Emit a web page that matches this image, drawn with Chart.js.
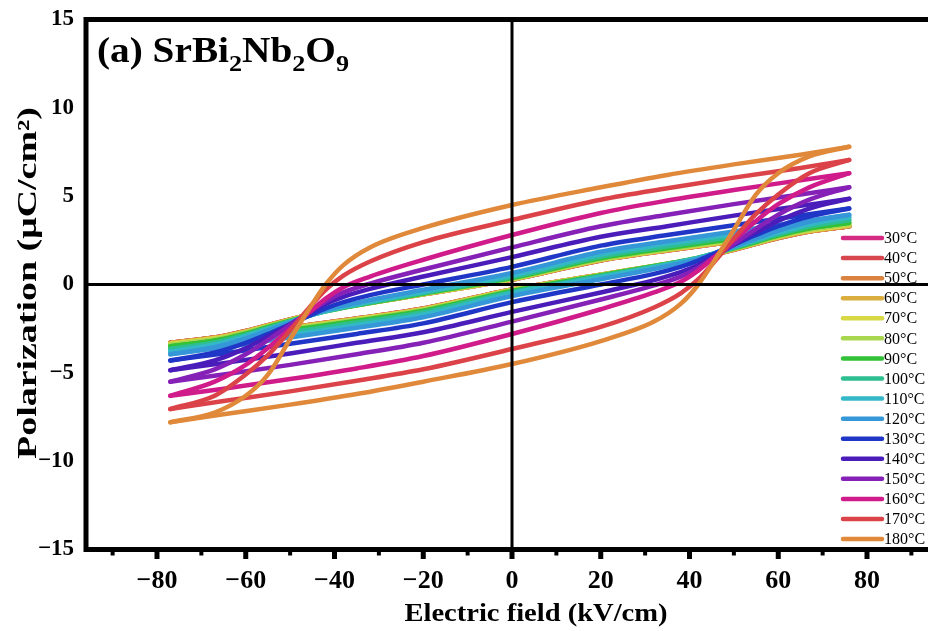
<!DOCTYPE html>
<html><head><meta charset="utf-8">
<script src="https://cdn.jsdelivr.net/npm/chart.js@4.4.1/dist/chart.umd.min.js"></script>
<style>
html,body{margin:0;padding:0;overflow:hidden;background:#fff;}
#wrap{width:928px;height:631px;overflow:hidden;position:relative;}
canvas{display:block;}
</style></head><body>
<div id="wrap"><canvas id="c" width="950" height="631"></canvas></div>
<script>
// ---- data ----
const temps = [30, 40, 50, 60, 70, 80, 90, 100, 110, 120, 130, 140, 150, 160, 170, 180];
const colors = ['#D42A82','#D6464C','#DA8240','#DAAE3E','#D7D844','#A8D64E','#33C137','#2EBF90',
                '#34B8C8','#3597D8','#1F36C6','#4A1DBA','#8621B8','#D01C8A','#DB4349','#E0893A'];
// field values (kV/cm) of the ascending (lower) branch and descending (upper) branch
const eLower = [-77, -65, -50, -35, -20, 0, 20, 32, 38, 42, 46, 50, 55, 60, 67, 76];
const eUpper = [-77, -67, -60, -55, -50, -46, -42, -38, -32, -20, 0, 20, 35, 50, 65, 76];
// polarization (uC/cm2) of the upper branch at eUpper, per temperature
const pUpper = [
  [-3.3, -3.0, -2.63, -2.3, -1.97, -1.72, -1.48, -1.29, -1.04, -0.56, 0.28, 1.36, 1.92, 2.43, 2.94, 3.3],
  [-3.3, -3.0, -2.63, -2.3, -1.97, -1.72, -1.48, -1.29, -1.04, -0.56, 0.28, 1.36, 1.92, 2.43, 2.94, 3.3],
  [-3.3, -3.0, -2.63, -2.3, -1.97, -1.72, -1.48, -1.29, -1.04, -0.56, 0.28, 1.36, 1.92, 2.43, 2.94, 3.3],
  [-3.32, -3.02, -2.65, -2.32, -1.99, -1.73, -1.49, -1.3, -1.05, -0.56, 0.29, 1.38, 1.94, 2.45, 2.96, 3.32],
  [-3.36, -3.05, -2.68, -2.34, -2.0, -1.74, -1.5, -1.3, -1.05, -0.55, 0.3, 1.4, 1.96, 2.48, 3.0, 3.36],
  [-3.42, -3.1, -2.72, -2.36, -2.02, -1.75, -1.51, -1.31, -1.05, -0.54, 0.32, 1.43, 2.0, 2.52, 3.05, 3.42],
  [-3.5, -3.17, -2.77, -2.4, -2.05, -1.77, -1.52, -1.32, -1.05, -0.52, 0.36, 1.48, 2.05, 2.58, 3.12, 3.5],
  [-3.65, -3.28, -2.84, -2.46, -2.08, -1.79, -1.52, -1.3, -1.02, -0.48, 0.42, 1.57, 2.15, 2.7, 3.25, 3.65],
  [-3.8, -3.4, -2.92, -2.52, -2.12, -1.8, -1.5, -1.27, -0.98, -0.42, 0.5, 1.7, 2.3, 2.85, 3.4, 3.8],
  [-3.95, -3.55, -3.05, -2.6, -2.15, -1.8, -1.45, -1.2, -0.88, -0.3, 0.65, 1.85, 2.45, 3.0, 3.55, 3.95],
  [-4.3, -3.85, -3.3, -2.8, -2.25, -1.8, -1.35, -1.0, -0.6, 0.0, 1.0, 2.2, 2.8, 3.35, 3.9, 4.3],
  [-4.85, -4.3, -3.6, -2.95, -2.25, -1.65, -1.1, -0.7, -0.25, 0.45, 1.55, 2.7, 3.3, 3.9, 4.45, 4.85],
  [-5.5, -4.8, -3.95, -3.15, -2.3, -1.6, -0.95, -0.45, 0.05, 0.85, 2.1, 3.3, 3.95, 4.55, 5.1, 5.5],
  [-6.3, -5.5, -4.55, -3.6, -2.5, -1.65, -0.8, -0.15, 0.45, 1.4, 2.8, 4.05, 4.75, 5.35, 5.9, 6.3],
  [-7.05, -6.3, -5.1, -4.0, -2.6, -1.4, -0.3, 0.5, 1.3, 2.4, 3.65, 4.8, 5.45, 6.05, 6.6, 7.05],
  [-7.8, -7.25, -6.3, -5.1, -3.1, -1.5, 0.0, 1.1, 2.1, 3.2, 4.5, 5.5, 6.2, 6.8, 7.35, 7.8]
];
// polarization of the lower branch at eLower, per temperature
const pLower = [
  [-3.3, -2.94, -2.43, -1.92, -1.36, -0.28, 0.56, 1.04, 1.29, 1.48, 1.72, 1.97, 2.3, 2.63, 3.0, 3.3],
  [-3.3, -2.94, -2.43, -1.92, -1.36, -0.28, 0.56, 1.04, 1.29, 1.48, 1.72, 1.97, 2.3, 2.63, 3.0, 3.3],
  [-3.3, -2.94, -2.43, -1.92, -1.36, -0.28, 0.56, 1.04, 1.29, 1.48, 1.72, 1.97, 2.3, 2.63, 3.0, 3.3],
  [-3.32, -2.96, -2.45, -1.94, -1.38, -0.29, 0.56, 1.05, 1.3, 1.49, 1.73, 1.99, 2.32, 2.65, 3.02, 3.32],
  [-3.36, -3.0, -2.48, -1.96, -1.4, -0.3, 0.55, 1.05, 1.3, 1.5, 1.74, 2.0, 2.34, 2.68, 3.05, 3.36],
  [-3.42, -3.05, -2.52, -2.0, -1.43, -0.32, 0.54, 1.05, 1.31, 1.51, 1.75, 2.02, 2.36, 2.72, 3.1, 3.42],
  [-3.5, -3.12, -2.58, -2.05, -1.48, -0.36, 0.52, 1.05, 1.32, 1.52, 1.77, 2.05, 2.4, 2.77, 3.17, 3.5],
  [-3.65, -3.25, -2.7, -2.15, -1.57, -0.42, 0.48, 1.02, 1.3, 1.52, 1.79, 2.08, 2.46, 2.84, 3.28, 3.65],
  [-3.8, -3.4, -2.85, -2.3, -1.7, -0.5, 0.42, 0.98, 1.27, 1.5, 1.8, 2.12, 2.52, 2.92, 3.4, 3.8],
  [-3.95, -3.55, -3.0, -2.45, -1.85, -0.65, 0.3, 0.88, 1.2, 1.45, 1.8, 2.15, 2.6, 3.05, 3.55, 3.95],
  [-4.3, -3.9, -3.35, -2.8, -2.2, -1.0, 0.0, 0.6, 1.0, 1.35, 1.8, 2.25, 2.8, 3.3, 3.85, 4.3],
  [-4.85, -4.45, -3.9, -3.3, -2.7, -1.55, -0.45, 0.25, 0.7, 1.1, 1.65, 2.25, 2.95, 3.6, 4.3, 4.85],
  [-5.5, -5.1, -4.55, -3.95, -3.3, -2.1, -0.85, -0.05, 0.45, 0.95, 1.6, 2.3, 3.15, 3.95, 4.8, 5.5],
  [-6.3, -5.9, -5.35, -4.75, -4.05, -2.8, -1.4, -0.45, 0.15, 0.8, 1.65, 2.5, 3.6, 4.55, 5.5, 6.3],
  [-7.05, -6.6, -6.05, -5.45, -4.8, -3.65, -2.4, -1.3, -0.5, 0.3, 1.4, 2.6, 4.0, 5.1, 6.3, 7.05],
  [-7.8, -7.35, -6.8, -6.2, -5.5, -4.5, -3.2, -2.1, -1.1, 0.0, 1.5, 3.1, 5.1, 6.3, 7.25, 7.8]
];
const xLabelled = [-80, -60, -40, -20, 0, 20, 40, 60, 80];
const yLabelled = [-15, -10, -5, 0, 5, 10, 15];
const xTitle = 'Electric field (kV/cm)';
const yTitle = 'Polarization (\u03bcC/cm\u00b2)';
const titleParts = [['(a) SrBi', 0], ['2', 1], ['Nb', 0], ['2', 1], ['O', 0], ['9', 1]];

const SERIF = '"Liberation Serif", "Times New Roman", serif';
const fmt = v => (v < 0 ? '\u2212' + Math.abs(v) : String(v));

const datasets = [];
temps.forEach((t, i) => {
  const common = {
    borderColor: colors[i], backgroundColor: colors[i], borderWidth: 4.5,
    pointRadius: 0, pointHoverRadius: 0, showLine: true, fill: false,
    cubicInterpolationMode: 'monotone', borderCapStyle: 'round', borderJoinStyle: 'round',
    order: 100 - i
  };
  datasets.push(Object.assign({ label: t + '\u00b0C', data: eLower.map((e, j) => ({ x: e, y: pLower[i][j] })) }, common));
  datasets.push(Object.assign({ label: t + '\u00b0C (return)', data: eUpper.map((e, j) => ({ x: e, y: pUpper[i][j] })) }, common));
});

function stretchText(ctx, text, x, y, font, targetW, rot) {
  ctx.save();
  ctx.font = font;
  const w = ctx.measureText(text).width;
  ctx.translate(x, y);
  if (rot) ctx.rotate(rot);
  ctx.scale(targetW / w, 1);
  ctx.textAlign = 'center';
  ctx.textBaseline = 'alphabetic';
  ctx.fillStyle = '#000';
  ctx.fillText(text, 0, 0);
  ctx.restore();
}

const decor = {
  id: 'decor',
  afterDatasetsDraw(chart) {
    const ctx = chart.ctx, ca = chart.chartArea, xs = chart.scales.x, ys = chart.scales.y;
    ctx.save();
    // zero lines
    const x0 = xs.getPixelForValue(0), y0 = ys.getPixelForValue(0);
    ctx.strokeStyle = '#000'; ctx.lineWidth = 3;
    ctx.beginPath();
    ctx.moveTo(x0, ca.top); ctx.lineTo(x0, ca.bottom);
    ctx.moveTo(ca.left, y0); ctx.lineTo(ca.right, y0);
    ctx.stroke();
    // frame
    ctx.lineWidth = 5;
    ctx.strokeRect(ca.left, ca.top, ca.right - ca.left, ca.bottom - ca.top);
    // bottom tick marks
    ctx.fillStyle = '#000';
    xs.ticks.forEach(t => {
      const px = xs.getPixelForValue(t.value);
      const major = xLabelled.includes(t.value);
      const w = major ? 5 : 4, len = major ? 7 : 3.5;
      ctx.fillRect(px - w / 2, ca.bottom + 2.5, w, len);
    });
    // legend
    temps.forEach((t, i) => {
      const yy = 238 + i * 20.07;
      ctx.strokeStyle = colors[i]; ctx.lineWidth = 4.5; ctx.lineCap = 'round';
      ctx.beginPath(); ctx.moveTo(843, yy); ctx.lineTo(882, yy); ctx.stroke();
      ctx.fillStyle = '#000';
      ctx.font = '16px ' + SERIF;
      ctx.textAlign = 'left'; ctx.textBaseline = 'middle';
      ctx.fillText(t + '\u00b0C', 884, yy + 1);
    });
    // panel title with subscripts
    const mainF = 'bold 36px ' + SERIF, subF = 'bold 24px ' + SERIF;
    let total = 0;
    titleParts.forEach(p => { ctx.font = p[1] ? subF : mainF; total += ctx.measureText(p[0]).width; });
    const sx = 252 / total;
    ctx.save();
    ctx.translate(97, 0); ctx.scale(sx, 1);
    let cx = 0;
    ctx.fillStyle = '#000'; ctx.textAlign = 'left'; ctx.textBaseline = 'alphabetic';
    titleParts.forEach(p => {
      ctx.font = p[1] ? subF : mainF;
      ctx.fillText(p[0], cx, p[1] ? 71 : 62);
      cx += ctx.measureText(p[0]).width;
    });
    ctx.restore();
    // axis titles
    stretchText(ctx, xTitle, 536, 621, 'bold 25px ' + SERIF, 263, 0);
    stretchText(ctx, yTitle, 36, 283, 'bold 27px ' + SERIF, 352, -Math.PI / 2);
    ctx.restore();
  }
};

new Chart(document.getElementById('c'), {
  type: 'scatter',
  data: { datasets },
  options: {
    responsive: false, animation: false, devicePixelRatio: 1,
    layout: { padding: { left: 0, top: 19.5, right: 12, bottom: 0 } },
    plugins: { legend: { display: false }, tooltip: { enabled: false }, title: { display: false } },
    scales: {
      x: {
        type: 'linear', min: -96, max: 96,
        grid: { display: false, drawTicks: false }, border: { display: false },
        ticks: {
          stepSize: 10, includeBounds: false, autoSkip: false, maxRotation: 0,
          color: '#000', padding: 16, font: { family: SERIF, size: 26, weight: 'bold' },
          callback: v => (xLabelled.includes(v) ? fmt(v) : '')
        },
        afterFit: s => { s.height = 81.5; }
      },
      y: {
        type: 'linear', min: -15, max: 15,
        grid: { display: false, drawTicks: false }, border: { display: false },
        ticks: {
          stepSize: 5, autoSkip: false, color: '#000', padding: 12,
          font: { family: SERIF, size: 23, weight: 'bold', lineHeight: 0.5 },
          callback: v => (yLabelled.includes(v) ? fmt(v) : '')
        },
        afterFit: s => { s.width = 86; }
      }
    }
  },
  plugins: [decor]
});
</script>
</body></html>
